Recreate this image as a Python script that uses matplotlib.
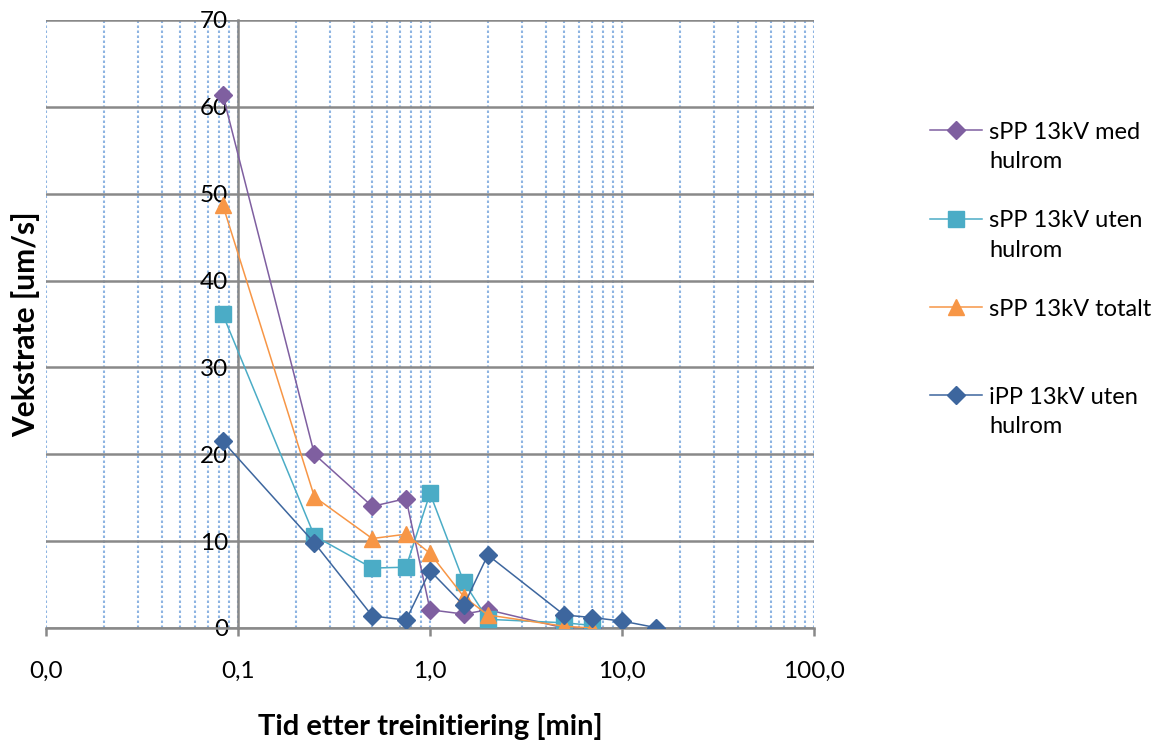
import matplotlib.pyplot as plt
from matplotlib.ticker import FixedLocator, LogLocator, NullFormatter

plt.rcParams['font.family'] = ['Lato', 'DejaVu Sans']

# tid i minutter
t_spp = [5/60, 0.25, 0.5, 0.75, 1.0, 1.5, 2.0, 5.0, 7.0]
t_ipp = [5/60, 0.25, 0.5, 0.75, 1.0, 1.5, 2.0, 5.0, 7.0, 10.0, 15.0]

spp_med = [61.4, 20.0, 14.0, 14.9, 2.1, 1.6, 2.1, 0.0, 0.0]
spp_uten = [36.1, 10.6, 6.9, 7.0, 15.5, 5.3, 1.0, 0.6, 0.3]
spp_tot = [48.7, 15.1, 10.3, 10.8, 8.6, 3.6, 1.5, 0.2, 0.0]
ipp_uten = [21.5, 9.8, 1.4, 0.9, 6.6, 2.6, 8.4, 1.5, 1.2, 0.8, 0.05]

labels = ['sPP 13kV med\nhulrom', 'sPP 13kV uten\nhulrom', 'sPP 13kV totalt\n', 'iPP 13kV uten\nhulrom']
xtick_vals = [0.01, 0.1, 1, 10, 100]
xtick_labels = ['0,0', '0,1', '1,0', '10,0', '100,0']

fig = plt.figure(figsize=(11.55, 7.45), dpi=100)
ax = fig.add_axes([46/1155, 1-628/745, 768/1155, 608/745])

ax.plot(t_spp, spp_med, color='#7F5FA0', marker='D', ms=9.5, lw=1.1, label=labels[0], zorder=3)
ax.plot(t_spp, spp_uten, color='#4BACC6', marker='s', ms=12, lw=1.1, label=labels[1], zorder=3)
ax.plot(t_spp, spp_tot, color='#F79646', marker='^', ms=12, lw=1.1, label=labels[2], zorder=3)
ax.plot(t_ipp, ipp_uten, color='#3D669E', marker='D', ms=9.5, lw=1.1, label=labels[3], zorder=3)

ax.set_xscale('log')
ax.set_xlim(0.01, 100)
ax.set_ylim(0, 70)

ax.xaxis.set_major_locator(FixedLocator(xtick_vals))
ax.set_xticklabels(xtick_labels)
ax.xaxis.set_minor_locator(LogLocator(base=10, subs=range(2, 10), numticks=20))
ax.xaxis.set_minor_formatter(NullFormatter())
ax.set_yticks(range(0, 71, 10))

ax.grid(True, axis='x', which='both', color='#8DB4E2', ls=(0, (1.2, 1.2)), lw=1.5, zorder=0)
ax.grid(True, axis='y', which='major', color='#898989', ls='-', lw=1.8, zorder=1)

for s in ['top', 'right']:
    ax.spines[s].set_visible(False)
ax.spines['left'].set_position(('data', 0.1))
ax.spines['left'].set_color('#898989')
ax.spines['left'].set_linewidth(1.8)
ax.spines['bottom'].set_color('#898989')
ax.spines['bottom'].set_linewidth(1.8)

ax.tick_params(axis='y', length=0, pad=7, labelsize=17.5)
ax.tick_params(axis='x', which='major', length=6, width=1.8, color='#898989', pad=18, labelsize=17.5)
ax.tick_params(axis='x', which='minor', length=0)

ax.set_xlabel('Tid etter treinitiering [min]', fontsize=21, fontweight='bold', labelpad=22)
ax.set_ylabel('Vekstrate [um/s]', fontsize=21.5, fontweight='bold')
ax.yaxis.set_label_coords(-0.008, 0.5)

leg = ax.legend(loc='upper left', bbox_to_anchor=(930/1155, 1-122/745), bbox_transform=fig.transFigure,
                frameon=False, fontsize=17, borderpad=0, borderaxespad=0,
                labelspacing=1.6, handlelength=2.2, handletextpad=0.3)
for t in leg.get_texts():
    t.set_linespacing(1.5)
for col in leg._legend_handle_box.get_children():
    for item in col.get_children():
        item.align = 'top'

plt.savefig('out.png')
